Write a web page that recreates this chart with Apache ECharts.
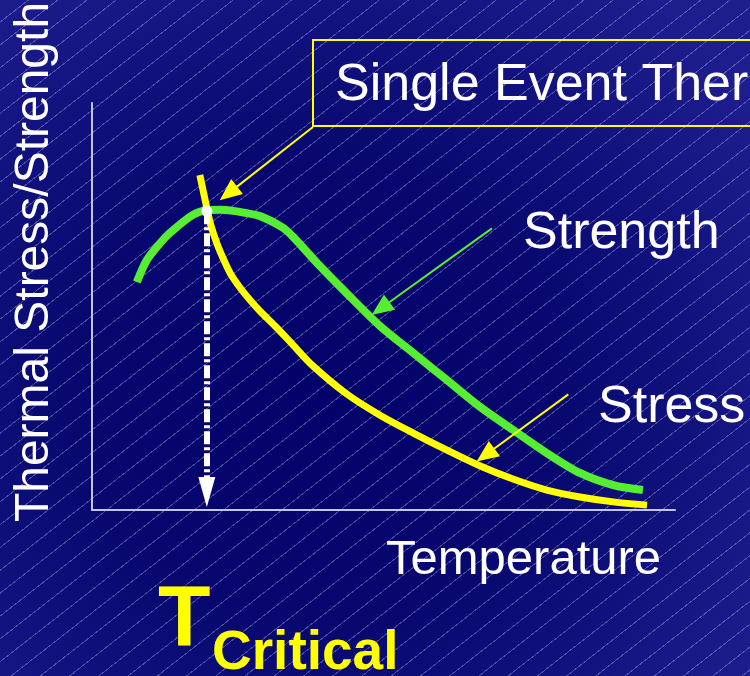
<!DOCTYPE html>
<html>
<head>
<meta charset="utf-8">
<title>Thermal Stress vs Strength</title>
<script src="https://cdn.jsdelivr.net/npm/echarts@6/dist/echarts.min.js"></script>
<style>
  html, body { margin: 0; padding: 0; }
  #chart {
    width: 750px; height: 676px;
    background-color: #05056c;
    background-image:
      repeating-linear-gradient(142deg, rgba(0,0,0,0) 0px, rgba(0,0,0,0) 17px,
        rgba(170,170,230,0.40) 17px, rgba(170,170,230,0.40) 18px),
      radial-gradient(ellipse 70% 75% at 42% 58%, #02026a 0%, #07076f 45%, #1d1d8e 100%);
  }
</style>
</head>
<body>
<div id="chart"></div>
<script>
// Temperature runs 0..100 along x, stress/strength 0..100 up the y axis (arbitrary units).
var strengthT = [7.7, 9.4, 11.7, 13.4, 17.3, 19.9, 22.0, 24.2, 28.8, 32.8, 34.5, 38.6, 43.1, 49.4, 55.1, 60.9, 66.6, 72.2, 78.0, 83.7, 89.4, 94.5];
var strengthV = [56.0, 61.4, 65.6, 68.1, 72.5, 73.7, 73.8, 73.5, 72.2, 69.3, 67.1, 60.7, 54.1, 45.2, 38.6, 31.9, 25.3, 19.7, 14.0, 9.1, 6.1, 4.9];

var stressT = [18.5, 19.4, 20.2, 21.1, 22.0, 23.7, 25.4, 27.1, 28.8, 31.4, 34.0, 37.9, 43.7, 49.4, 55.1, 60.9, 66.6, 72.2, 78.0, 83.7, 89.4, 95.2];
var stressV = [82.3, 76.2, 71.0, 66.8, 63.4, 58.2, 54.6, 51.6, 48.9, 45.2, 41.3, 35.4, 28.5, 23.3, 18.9, 14.7, 10.8, 7.6, 4.9, 3.2, 2.0, 1.2];

// Critical temperature: where the stress curve meets the strength peak.
var criticalT = 19.7;
var criticalTop = 73.4;
var criticalBottom = 4.4;

// Callout arrows, [tail, head] in data units.
var calloutArrow = [[37.9, 94.1], [23.4, 77.8]];
var strengthArrow = [[68.6, 69.2], [49.5, 49.5]];
var stressArrow = [[81.7, 28.4], [67.5, 13.5]];

var GREEN = '#55ee33';
var YELLOW = '#ffff00';
var AXIS = '#c4c4ea';
var FONT = '"Liberation Sans", Arial, sans-serif';

function pairs(xs, ys) {
  return xs.map(function (x, i) { return [x, ys[i]]; });
}

function arrowLine(seg, color) {
  return {
    silent: true,
    symbol: ['none', 'triangle'],
    symbolSize: [19, 22],
    label: { show: false },
    lineStyle: { color: color, width: 2, type: 'solid' },
    emphasis: { disabled: true },
    data: [[{ coord: seg[0] }, { coord: seg[1] }]]
  };
}

var chart = echarts.init(document.getElementById('chart'), null, { renderer: 'canvas' });

chart.setOption({
  backgroundColor: 'transparent',
  animation: false,
  grid: { left: 92, top: 103, right: 75, bottom: 166 },
  xAxis: {
    type: 'value', min: 0, max: 100,
    axisLine: { show: true, lineStyle: { color: AXIS, width: 2 } },
    axisTick: { show: false }, axisLabel: { show: false }, splitLine: { show: false }
  },
  yAxis: {
    type: 'value', min: 0, max: 100,
    axisLine: { show: true, lineStyle: { color: AXIS, width: 2 } },
    axisTick: { show: false }, axisLabel: { show: false }, splitLine: { show: false }
  },
  series: [
    {
      name: 'Critical',
      type: 'line',
      z: 1,
      data: [],
      markLine: {
        silent: true,
        label: { show: false },
        emphasis: { disabled: true },
        lineStyle: { color: '#ffffff', width: 6, type: [13, 3, 3, 3] },
        data: [[
          { coord: [criticalT, criticalTop], symbol: 'emptyCircle', symbolSize: 9,
            itemStyle: { color: '#ffffff', borderColor: '#ffffff', borderWidth: 2 } },
          { coord: [criticalT, criticalBottom], symbol: 'triangle', symbolSize: [17, 30],
            itemStyle: { color: '#ffffff' } }
        ]]
      }
    },
    {
      name: 'Strength',
      type: 'line',
      z: 3,
      smooth: 0.3,
      showSymbol: false,
      lineStyle: { color: GREEN, width: 8, cap: 'butt' },
      data: pairs(strengthT, strengthV),
      markLine: arrowLine(strengthArrow, GREEN)
    },
    {
      name: 'Stress',
      type: 'line',
      z: 4,
      smooth: 0.3,
      showSymbol: false,
      lineStyle: { color: YELLOW, width: 7, cap: 'butt' },
      data: pairs(stressT, stressV),
      markLine: arrowLine(stressArrow, YELLOW)
    },
    {
      name: 'Callout',
      type: 'line',
      z: 5,
      data: [],
      markLine: arrowLine(calloutArrow, YELLOW)
    }
  ],
  graphic: [
    {
      type: 'rect', silent: true,
      shape: { x: 313, y: 40, width: 470, height: 86 },
      style: { fill: 'none', stroke: YELLOW, lineWidth: 2 }
    },
    {
      type: 'text', silent: true, x: 335, y: 86,
      style: { text: 'Single Event Thermal Shock', fill: '#ffffff', font: '52px ' + FONT, verticalAlign: 'middle' }
    },
    {
      type: 'text', silent: true, x: 523, y: 234,
      style: { text: 'Strength', fill: '#ffffff', font: '52px ' + FONT, verticalAlign: 'middle' }
    },
    {
      type: 'text', silent: true, x: 598, y: 408,
      style: { text: 'Stress', fill: '#ffffff', font: '52px ' + FONT, verticalAlign: 'middle' }
    },
    {
      type: 'text', silent: true, x: 386, y: 560,
      style: { text: 'Temperature', fill: '#ffffff', font: '49px ' + FONT, verticalAlign: 'middle' }
    },
    {
      type: 'text', silent: true, x: 35, y: 262, rotation: Math.PI / 2,
      style: { text: 'Thermal Stress/Strength', fill: '#ffffff', font: '48px ' + FONT, align: 'center', verticalAlign: 'middle' }
    },
    {
      type: 'text', silent: true, x: 158, y: 621,
      style: { text: 'T', fill: YELLOW, font: 'bold 86px ' + FONT, verticalAlign: 'middle' }
    },
    {
      type: 'text', silent: true, x: 212, y: 654,
      style: { text: 'Critical', fill: YELLOW, font: 'bold 55px ' + FONT, verticalAlign: 'middle' }
    }
  ]
});
</script>
</body>
</html>
